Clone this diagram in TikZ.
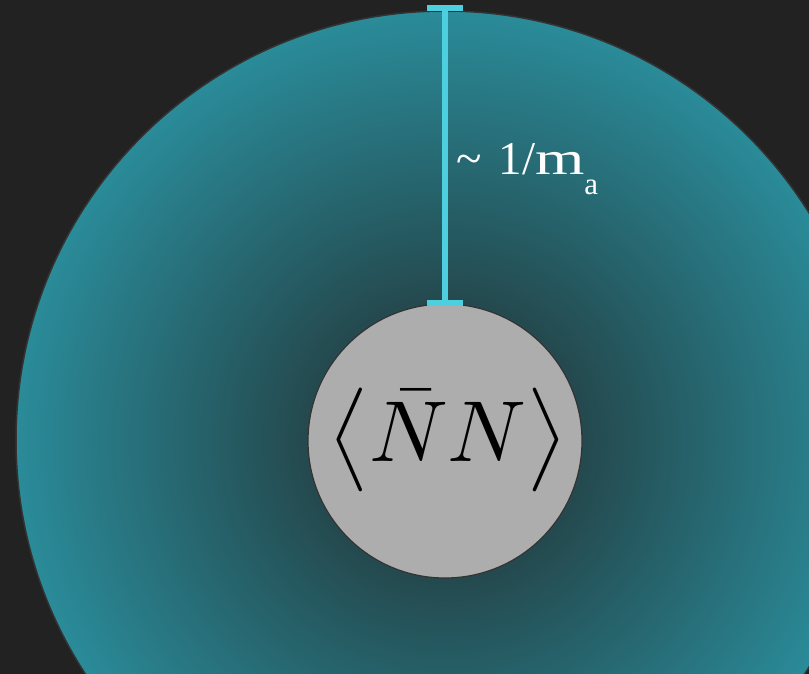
\documentclass[tikz,border=0pt]{standalone}
\usepackage{fontspec}
\newfontfamily\labelfont{Liberation Serif}
\usetikzlibrary{arrows.meta}
\definecolor{bgc}{HTML}{222222}
\definecolor{tealedge}{HTML}{2A8B99}
\definecolor{tealmid}{HTML}{24494E}
\definecolor{tealcore}{HTML}{22393D}
\definecolor{barc}{HTML}{4DCFE0}
\definecolor{corec}{HTML}{ADADAD}
\definecolor{rimc}{HTML}{333333}
\pgfdeclareradialshading{halo}{\pgfpoint{0bp}{0bp}}{color(0bp)=(tealcore); color(8bp)=(tealmid); color(25bp)=(tealedge); color(50bp)=(tealedge)}
\tikzset{
  halostyle/.style={draw=rimc, line width=1.5pt, shading=halo},
  corestyle/.style={circle, draw=rimc, line width=1.2pt, fill=corec, minimum size=274pt, inner sep=0pt},
  rangebar/.style={draw=barc, line width=6pt, {Bar[width=36pt,line width=6pt]}-{Bar[width=36pt,line width=6pt]}, shorten <=-3pt, shorten >=-3pt},
  lbl/.style={text=white, font=\labelfont\fontsize{47}{52}\selectfont, inner sep=0pt}
}
\begin{document}
\begin{tikzpicture}[x=1pt,y=-1pt]
\useasboundingbox (0,0) rectangle (809,674);
\fill[bgc] (0,0) rectangle (809,674);
\begin{scope}
\clip (0,0) rectangle (809,674);
\shade[halostyle] (445,440) circle (429);
\end{scope}
\node[corestyle] (core) at (445,441) {};
\node (expr) at (448,440) {\scalebox{8.65}{$\bigl\langle\bar{N}N\bigr\rangle$}};
\coordinate (top) at (445,8);
\coordinate (bot) at (445,303);
\draw[rangebar] (top) -- (bot);
\node[lbl, anchor=base west] (lab) at (456,175) {\textasciitilde\hspace{0.36em}1/\scalebox{1.35}[1]{m}\raisebox{-0.42em}{\fontsize{31}{34}\selectfont a}};
\end{tikzpicture}
\end{document}
